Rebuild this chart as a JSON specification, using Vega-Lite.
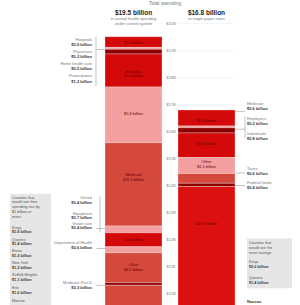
{
  "$schema": "https://vega.github.io/schema/vega-lite/v6.json",
  "width": 300,
  "height": 305,
  "padding": 0,
  "autosize": {"type": "fit", "contains": "padding"},
  "background": "white",
  "config": {"view": {"stroke": null}, "font": "Liberation Sans"},
  "datasets": {
    "segments": [
      {"bar": "Current", "item": "Hospitals", "tone": "red", "v": 19.12, "v2": 19.52},
      {"bar": "Current", "item": "Physicians", "tone": "pink", "v": 19.05, "v2": 19.12},
      {"bar": "Current", "item": "Home health care", "tone": "dark", "v": 18.88, "v2": 19.05},
      {"bar": "Current", "item": "Prescriptions", "tone": "red", "v": 17.66, "v2": 18.88},
      {"bar": "Current", "item": "Administration", "tone": "pink", "v": 15.6, "v2": 17.66},
      {"bar": "Current", "item": "Medicaid", "tone": "brick", "v": 12.52, "v2": 15.6},
      {"bar": "Current", "item": "Vision care", "tone": "pink", "v": 12.27, "v2": 12.52},
      {"bar": "Current", "item": "Equipment", "tone": "red", "v": 11.75, "v2": 12.27},
      {"bar": "Current", "item": "Department of Health", "tone": "pink", "v": 11.53, "v2": 11.75},
      {"bar": "Current", "item": "Other", "tone": "brick", "v": 10.43, "v2": 11.53},
      {"bar": "Current", "item": "Medicare Part D", "tone": "dark", "v": 10.33, "v2": 10.43},
      {"bar": "Current", "item": "Remaining", "tone": "brick", "v": 0, "v2": 10.33},
      {"bar": "Proposed", "item": "Medicare", "tone": "red", "v": 16.22, "v2": 16.81},
      {"bar": "Proposed", "item": "Employers", "tone": "pink", "v": 16.15, "v2": 16.22},
      {"bar": "Proposed", "item": "Individuals", "tone": "dark", "v": 15.96, "v2": 16.15},
      {"bar": "Proposed", "item": "Payroll", "tone": "red", "v": 15.05, "v2": 15.96},
      {"bar": "Proposed", "item": "Taxes", "tone": "pink", "v": 14.46, "v2": 15.05},
      {"bar": "Proposed", "item": "Federal funds", "tone": "brick", "v": 14.1, "v2": 14.46},
      {"bar": "Proposed", "item": "Fees", "tone": "dark", "v": 13.98, "v2": 14.1},
      {"bar": "Proposed", "item": "Single payer", "tone": "red2", "v": 0, "v2": 13.98}
    ],
    "grid": [
      {"bar": "Proposed", "v": 20}, {"bar": "Proposed", "v": 19},
      {"bar": "Proposed", "v": 18}, {"bar": "Proposed", "v": 17}
    ],
    "boxes": [
      {"bar": "Current", "side": "left", "v": 13.71, "v2": 9.6},
      {"bar": "Proposed", "side": "right", "v": 12.06, "v2": 10.22}
    ],
    "brackets": [
      {"bar": "Current", "id": "L1", "v": 19.51, "v2": 17.68},
      {"bar": "Current", "id": "L2", "v": 13.64, "v2": 12.28},
      {"bar": "Proposed", "id": "R1", "v": 16.58, "v2": 15.77}
    ],
    "connectors": [
      {"bar": "Current", "v": 19.04},
      {"bar": "Current", "v": 12.43},
      {"bar": "Current", "v": 11.69},
      {"bar": "Current", "v": 10.33},
      {"bar": "Proposed", "v": 16.76},
      {"bar": "Proposed", "v": 16.1},
      {"bar": "Proposed", "v": 14.48},
      {"bar": "Proposed", "v": 14.01}
    ],
    "labels": [
      {"bar": "Current", "group": "header", "kind": "name", "v": 20.78, "text": "Total spending"},
      {"bar": "Current", "group": "title", "kind": "amount", "v": 20.41, "text": "$19.5 billion"},
      {"bar": "Current", "group": "sub", "kind": "name", "v": 20.18, "text": "in annual health spending"},
      {"bar": "Current", "group": "sub", "kind": "name", "v": 20.0, "text": "under current system"},
      {"bar": "Proposed", "group": "title", "kind": "amount", "v": 20.4, "text": "$16.8 billion"},
      {"bar": "Proposed", "group": "sub", "kind": "name", "v": 20.18, "text": "in single-payer costs"},
      {"bar": "Current", "group": "axis", "kind": "name", "v": 20, "text": "$20B"},
      {"bar": "Current", "group": "axis", "kind": "name", "v": 19, "text": "$19B"},
      {"bar": "Current", "group": "axis", "kind": "name", "v": 18, "text": "$18B"},
      {"bar": "Current", "group": "axis", "kind": "name", "v": 17, "text": "$17B"},
      {"bar": "Current", "group": "axis", "kind": "name", "v": 16, "text": "$16B"},
      {"bar": "Current", "group": "axis", "kind": "name", "v": 15, "text": "$15B"},
      {"bar": "Current", "group": "axis", "kind": "name", "v": 14, "text": "$14B"},
      {"bar": "Current", "group": "axis", "kind": "name", "v": 13, "text": "$13B"},
      {"bar": "Current", "group": "axis", "kind": "name", "v": 12, "text": "$12B"},
      {"bar": "Current", "group": "axis", "kind": "name", "v": 11, "text": "$11B"},
      {"bar": "Current", "group": "axis", "kind": "name", "v": 10, "text": "$10B"},
      {"bar": "Current", "group": "leftLab", "kind": "name", "v": 19.4, "text": "Hospitals"},
      {"bar": "Current", "group": "leftLab", "kind": "amount", "v": 19.22, "text": "$0.6 billion"},
      {"bar": "Current", "group": "leftLab", "kind": "name", "v": 18.96, "text": "Physicians"},
      {"bar": "Current", "group": "leftLab", "kind": "amount", "v": 18.78, "text": "$0.3 billion"},
      {"bar": "Current", "group": "leftLab", "kind": "name", "v": 18.52, "text": "Home health care"},
      {"bar": "Current", "group": "leftLab", "kind": "amount", "v": 18.34, "text": "$0.5 billion"},
      {"bar": "Current", "group": "leftLab", "kind": "name", "v": 18.05, "text": "Prescriptions"},
      {"bar": "Current", "group": "leftLab", "kind": "amount", "v": 17.86, "text": "$1.2 billion"},
      {"bar": "Current", "group": "leftLab", "kind": "name", "v": 13.57, "text": "Dental"},
      {"bar": "Current", "group": "leftLab", "kind": "amount", "v": 13.38, "text": "$0.4 billion"},
      {"bar": "Current", "group": "leftLab", "kind": "name", "v": 12.98, "text": "Equipment"},
      {"bar": "Current", "group": "leftLab", "kind": "amount", "v": 12.8, "text": "$0.7 billion"},
      {"bar": "Current", "group": "leftLab", "kind": "name", "v": 12.61, "text": "Vision care"},
      {"bar": "Current", "group": "leftLab", "kind": "amount", "v": 12.43, "text": "$0.4 billion"},
      {"bar": "Current", "group": "leftLab", "kind": "name", "v": 11.88, "text": "Department of Health"},
      {"bar": "Current", "group": "leftLab", "kind": "amount", "v": 11.69, "text": "$0.6 billion"},
      {"bar": "Current", "group": "leftLab", "kind": "name", "v": 10.41, "text": "Medicare Part D"},
      {"bar": "Current", "group": "leftLab", "kind": "amount", "v": 10.22, "text": "$0.3 billion"},
      {"bar": "Current", "group": "inside", "kind": "name", "v": 19.28, "text": "$1.4 billion"},
      {"bar": "Current", "group": "inside", "kind": "name", "v": 18.23, "text": "Hospitals"},
      {"bar": "Current", "group": "inside", "kind": "name", "v": 18.05, "text": "$4.3 billion"},
      {"bar": "Current", "group": "inside", "kind": "name", "v": 16.65, "text": "$5.6 billion"},
      {"bar": "Current", "group": "inside", "kind": "name", "v": 14.41, "text": "Medicaid"},
      {"bar": "Current", "group": "inside", "kind": "name", "v": 14.23, "text": "$11.2 billion"},
      {"bar": "Current", "group": "inside", "kind": "name", "v": 11.99, "text": "$1.6 billion"},
      {"bar": "Current", "group": "inside", "kind": "name", "v": 11.07, "text": "Other"},
      {"bar": "Current", "group": "inside", "kind": "name", "v": 10.89, "text": "$4.1 billion"},
      {"bar": "Proposed", "group": "inside", "kind": "name", "v": 16.39, "text": "$2.5 billion"},
      {"bar": "Proposed", "group": "inside", "kind": "name", "v": 15.55, "text": "$3.4 billion"},
      {"bar": "Proposed", "group": "inside", "kind": "name", "v": 14.89, "text": "Other"},
      {"bar": "Proposed", "group": "inside", "kind": "name", "v": 14.7, "text": "$2.1 billion"},
      {"bar": "Proposed", "group": "inside", "kind": "name", "v": 12.61, "text": "$13.9 billion"},
      {"bar": "Proposed", "group": "rightLab", "kind": "name", "v": 17.02, "text": "Medicare"},
      {"bar": "Proposed", "group": "rightLab", "kind": "amount", "v": 16.83, "text": "$0.6 billion"},
      {"bar": "Proposed", "group": "rightLab", "kind": "name", "v": 16.47, "text": "Employers"},
      {"bar": "Proposed", "group": "rightLab", "kind": "amount", "v": 16.28, "text": "$0.2 billion"},
      {"bar": "Proposed", "group": "rightLab", "kind": "name", "v": 15.92, "text": "Individuals"},
      {"bar": "Proposed", "group": "rightLab", "kind": "amount", "v": 15.73, "text": "$0.8 billion"},
      {"bar": "Proposed", "group": "rightLab", "kind": "name", "v": 14.63, "text": "Taxes"},
      {"bar": "Proposed", "group": "rightLab", "kind": "amount", "v": 14.45, "text": "$0.6 billion"},
      {"bar": "Proposed", "group": "rightLab", "kind": "name", "v": 14.12, "text": "Federal funds"},
      {"bar": "Proposed", "group": "rightLab", "kind": "amount", "v": 13.93, "text": "$0.4 billion"},
      {"bar": "Proposed", "group": "rightLab", "kind": "amount", "v": 9.7, "text": "Nassau"},
      {"bar": "Current", "group": "noteL", "kind": "name", "v": 13.57, "text": "Counties that"},
      {"bar": "Current", "group": "noteL", "kind": "name", "v": 13.39, "text": "would see their"},
      {"bar": "Current", "group": "noteL", "kind": "name", "v": 13.21, "text": "spending rise by"},
      {"bar": "Current", "group": "noteL", "kind": "name", "v": 13.03, "text": "$1 billion or"},
      {"bar": "Current", "group": "noteL", "kind": "name", "v": 12.85, "text": "more:"},
      {"bar": "Current", "group": "noteL", "kind": "name", "v": 12.46, "text": "Kings"},
      {"bar": "Current", "group": "noteL", "kind": "amount", "v": 12.28, "text": "$1.6 billion"},
      {"bar": "Current", "group": "noteL", "kind": "name", "v": 12.02, "text": "Queens"},
      {"bar": "Current", "group": "noteL", "kind": "amount", "v": 11.84, "text": "$1.4 billion"},
      {"bar": "Current", "group": "noteL", "kind": "name", "v": 11.58, "text": "Bronx"},
      {"bar": "Current", "group": "noteL", "kind": "amount", "v": 11.4, "text": "$1.3 billion"},
      {"bar": "Current", "group": "noteL", "kind": "name", "v": 11.14, "text": "New York"},
      {"bar": "Current", "group": "noteL", "kind": "amount", "v": 10.96, "text": "$1.2 billion"},
      {"bar": "Current", "group": "noteL", "kind": "name", "v": 10.7, "text": "Suffolk Heights"},
      {"bar": "Current", "group": "noteL", "kind": "amount", "v": 10.52, "text": "$1.1 billion"},
      {"bar": "Current", "group": "noteL", "kind": "name", "v": 10.22, "text": "Erie"},
      {"bar": "Current", "group": "noteL", "kind": "amount", "v": 10.04, "text": "$1.0 billion"},
      {"bar": "Current", "group": "noteL", "kind": "name", "v": 9.76, "text": "Monroe"},
      {"bar": "Proposed", "group": "noteR", "kind": "name", "v": 11.88, "text": "Counties that"},
      {"bar": "Proposed", "group": "noteR", "kind": "name", "v": 11.69, "text": "would see the"},
      {"bar": "Proposed", "group": "noteR", "kind": "name", "v": 11.51, "text": "most savings:"},
      {"bar": "Proposed", "group": "noteR", "kind": "name", "v": 11.18, "text": "Kings"},
      {"bar": "Proposed", "group": "noteR", "kind": "amount", "v": 10.99, "text": "$2.0 billion"},
      {"bar": "Proposed", "group": "noteR", "kind": "name", "v": 10.59, "text": "Queens"},
      {"bar": "Proposed", "group": "noteR", "kind": "amount", "v": 10.41, "text": "$1.4 billion"}
    ]
  },
  "encoding": {
    "x": {"field": "bar", "type": "nominal", "axis": null,
      "scale": {"type": "band", "domain": ["Current", "Proposed"], "range": [105, 235], "paddingInner": 0.219, "paddingOuter": 0}},
    "y": {"field": "v", "type": "quantitative", "axis": null, "scale": {"domain": [9.6, 20.8], "nice": false, "zero": false}}
  },
  "layer": [
    {"data": {"name": "grid"}, "mark": {"type": "tick", "size": 57, "thickness": 1, "color": "#ececec"}},
    {"data": {"name": "boxes"}, "transform": [{"filter": "datum.side === 'left'"}],
      "mark": {"type": "bar", "width": 41, "xOffset": -103, "color": "#e6e6e6", "clip": true},
      "encoding": {"y2": {"field": "v2"}}},
    {"data": {"name": "boxes"}, "transform": [{"filter": "datum.side === 'right'"}],
      "mark": {"type": "bar", "width": 45, "xOffset": 63, "color": "#e6e6e6"},
      "encoding": {"y2": {"field": "v2"}}},
    {"data": {"name": "segments"},
      "mark": {"type": "bar", "clip": true, "stroke": "white", "strokeWidth": 0.3},
      "encoding": {
        "y2": {"field": "v2"},
        "color": {"field": "tone", "type": "nominal", "legend": null,
          "scale": {"domain": ["red", "dark", "pink", "brick", "red2"], "range": ["#d40a0a", "#8c0000", "#f5a0a0", "#d5483c", "#dc1010"]}}
      }},
    {"data": {"name": "brackets"}, "transform": [{"filter": "datum.id === 'L1'"}],
      "mark": {"type": "rule", "xOffset": -37.5, "color": "#aaa", "strokeWidth": 0.7},
      "encoding": {"y2": {"field": "v2"}}},
    {"data": {"name": "brackets"}, "transform": [{"filter": "datum.id === 'L2'"}],
      "mark": {"type": "rule", "xOffset": -33.5, "color": "#aaa", "strokeWidth": 0.7},
      "encoding": {"y2": {"field": "v2"}}},
    {"data": {"name": "brackets"}, "transform": [{"filter": "datum.id === 'R1'"}],
      "mark": {"type": "rule", "xOffset": 38.5, "color": "#aaa", "strokeWidth": 0.7},
      "encoding": {"y2": {"field": "v2"}}},
    {"data": {"name": "connectors"}, "transform": [{"filter": "datum.bar === 'Current'"}],
      "mark": {"type": "tick", "size": 9, "thickness": 0.7, "xOffset": -32.5, "color": "#888"}},
    {"data": {"name": "connectors"}, "transform": [{"filter": "datum.bar === 'Proposed'"}],
      "mark": {"type": "tick", "size": 10, "thickness": 0.7, "xOffset": 33.5, "color": "#888"}},
    {"data": {"name": "labels"}, "transform": [{"filter": "datum.group === 'header'"}],
      "mark": {"type": "text", "dx": 31.5, "fontSize": 5, "color": "#777", "baseline": "middle"},
      "encoding": {"text": {"field": "text"}}},
    {"data": {"name": "labels"}, "transform": [{"filter": "datum.group === 'title'"}],
      "mark": {"type": "text", "fontSize": 6.5, "fontWeight": "bold", "color": "#222", "baseline": "middle"},
      "encoding": {"text": {"field": "text"}}},
    {"data": {"name": "labels"}, "transform": [{"filter": "datum.group === 'sub'"}],
      "mark": {"type": "text", "fontSize": 4, "color": "#777", "baseline": "middle"},
      "encoding": {"text": {"field": "text"}}},
    {"data": {"name": "labels"}, "transform": [{"filter": "datum.group === 'axis'"}],
      "mark": {"type": "text", "dx": 37.5, "fontSize": 4, "color": "#888", "baseline": "middle"},
      "encoding": {"text": {"field": "text"}}},
    {"data": {"name": "labels"}, "transform": [{"filter": "datum.group === 'leftLab' && datum.kind === 'name'"}],
      "mark": {"type": "text", "dx": -41.5, "align": "right", "fontSize": 4, "color": "#777", "baseline": "middle"},
      "encoding": {"text": {"field": "text"}}},
    {"data": {"name": "labels"}, "transform": [{"filter": "datum.group === 'leftLab' && datum.kind === 'amount'"}],
      "mark": {"type": "text", "dx": -41.5, "align": "right", "fontSize": 4, "fontWeight": "bold", "color": "#333", "baseline": "middle"},
      "encoding": {"text": {"field": "text"}}},
    {"data": {"name": "labels"}, "transform": [{"filter": "datum.group === 'rightLab' && datum.kind === 'name'"}],
      "mark": {"type": "text", "dx": 40.5, "align": "left", "fontSize": 4, "color": "#777", "baseline": "middle"},
      "encoding": {"text": {"field": "text"}}},
    {"data": {"name": "labels"}, "transform": [{"filter": "datum.group === 'rightLab' && datum.kind === 'amount'"}],
      "mark": {"type": "text", "dx": 40.5, "align": "left", "fontSize": 4, "fontWeight": "bold", "color": "#333", "baseline": "middle"},
      "encoding": {"text": {"field": "text"}}},
    {"data": {"name": "labels"}, "transform": [{"filter": "datum.group === 'inside'"}],
      "mark": {"type": "text", "fontSize": 4, "color": "#6a0000", "baseline": "middle"},
      "encoding": {"text": {"field": "text"}}},
    {"data": {"name": "labels"}, "transform": [{"filter": "datum.group === 'noteL' && datum.kind === 'name'"}],
      "mark": {"type": "text", "dx": -121.5, "align": "left", "fontSize": 3.8, "color": "#555", "baseline": "middle"},
      "encoding": {"text": {"field": "text"}}},
    {"data": {"name": "labels"}, "transform": [{"filter": "datum.group === 'noteL' && datum.kind === 'amount'"}],
      "mark": {"type": "text", "dx": -121.5, "align": "left", "fontSize": 3.8, "fontWeight": "bold", "color": "#333", "baseline": "middle"},
      "encoding": {"text": {"field": "text"}}},
    {"data": {"name": "labels"}, "transform": [{"filter": "datum.group === 'noteR' && datum.kind === 'name'"}],
      "mark": {"type": "text", "dx": 42.5, "align": "left", "fontSize": 3.8, "color": "#555", "baseline": "middle"},
      "encoding": {"text": {"field": "text"}}},
    {"data": {"name": "labels"}, "transform": [{"filter": "datum.group === 'noteR' && datum.kind === 'amount'"}],
      "mark": {"type": "text", "dx": 42.5, "align": "left", "fontSize": 3.8, "fontWeight": "bold", "color": "#333", "baseline": "middle"},
      "encoding": {"text": {"field": "text"}}}
  ]
}
